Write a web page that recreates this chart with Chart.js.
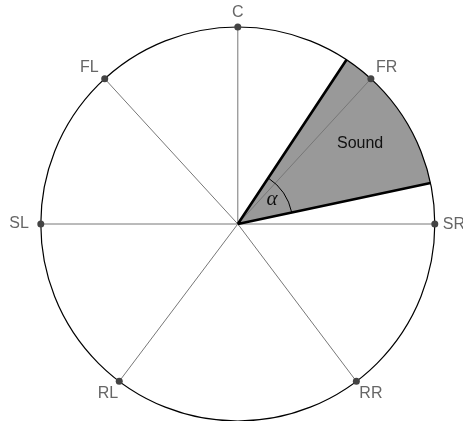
<!DOCTYPE html>
<html>
<head>
<meta charset="utf-8">
<script src="https://cdn.jsdelivr.net/npm/chart.js@4.4.0/dist/chart.umd.min.js"></script>
<style>
html,body{margin:0;padding:0;background:#fff;}
#c{display:block;}
</style>
</head>
<body>
<canvas id="c" width="463" height="421"></canvas>
<script>
// Speaker channels and their angles (degrees, clockwise from front "C")
const speakers = ['C', 'FL', 'FR', 'SL', 'SR', 'RL', 'RR'];
const speakerAngles = [0, -42.5, 42.5, -90, 90, -143, 143];
// Sound source sector (degrees)
const soundSector = [33.5, 78];
const soundLabel = 'Sound';
const angleLabel = 'α';

const toXY = (deg, r) => ({ x: r * Math.sin(deg * Math.PI / 180), y: r * Math.cos(deg * Math.PI / 180) });

const spokeData = [];
speakerAngles.forEach(a => { spokeData.push({x:0,y:0}); spokeData.push(toXY(a,1)); spokeData.push({x:NaN,y:NaN}); });
const edgeData = [];
soundSector.forEach(a => { edgeData.push({x:0,y:0}); edgeData.push(toXY(a,1)); edgeData.push({x:NaN,y:NaN}); });
const dotData = speakerAngles.map(a => toXY(a,1));

// label placement (pixel offsets / alignment)
const labelPlace = {
  C:  {dx:0,  dy:-14, align:'center'},
  FL: {dx:-6, dy:-11, align:'right'},
  FR: {dx:5,  dy:-11, align:'left'},
  SL: {dx:-12,dy:0,   align:'right'},
  SR: {dx:8,  dy:1,   align:'left'},
  RL: {dx:-1, dy:12,  align:'right'},
  RR: {dx:3,  dy:12,  align:'left'}
};

function geom(chart){
  const xs = chart.scales.x, ys = chart.scales.y;
  const cx = xs.getPixelForValue(0), cy = ys.getPixelForValue(0);
  const rx = xs.getPixelForValue(1) - cx, ry = cy - ys.getPixelForValue(1);
  return {cx, cy, rx, ry, xs, ys};
}
const rad = d => (d - 90) * Math.PI / 180;

const drawPlugin = {
  id: 'sectorDraw',
  beforeDatasetsDraw(chart){
    const {ctx} = chart; const g = geom(chart);
    ctx.save();
    // sound sector fill
    ctx.beginPath();
    ctx.moveTo(g.cx, g.cy);
    ctx.ellipse(g.cx, g.cy, g.rx, g.ry, 0, rad(soundSector[0]), rad(soundSector[1]));
    ctx.closePath();
    ctx.fillStyle = '#999999';
    ctx.fill();
    // outer circle
    ctx.beginPath();
    ctx.ellipse(g.cx, g.cy, g.rx, g.ry, 0, 0, Math.PI*2);
    ctx.strokeStyle = '#000';
    ctx.lineWidth = 1.2;
    ctx.stroke();
    ctx.restore();
  },
  afterDatasetsDraw(chart){
    const {ctx} = chart; const g = geom(chart);
    ctx.save();
    // alpha arc
    const ar = 0.28;
    ctx.beginPath();
    ctx.ellipse(g.cx, g.cy, g.rx*ar, g.ry*ar, 0, rad(soundSector[0]), rad(soundSector[1]));
    ctx.strokeStyle = '#000';
    ctx.lineWidth = 1;
    ctx.stroke();
    // alpha label
    const mid = (soundSector[0] + soundSector[1]) / 2;
    const ap = toXY(mid, 0.21);
    ctx.fillStyle = '#111';
    ctx.font = 'italic 21px "Liberation Serif", "DejaVu Serif", serif';
    ctx.textAlign = 'center'; ctx.textBaseline = 'middle';
    ctx.fillText(angleLabel, g.xs.getPixelForValue(ap.x), g.ys.getPixelForValue(ap.y) - 1);
    // sound label
    const sp = toXY(mid, 0.745);
    ctx.font = '16px "Liberation Sans", Arial, sans-serif';
    ctx.fillStyle = '#111';
    ctx.fillText(soundLabel, g.xs.getPixelForValue(sp.x) + 1, g.ys.getPixelForValue(sp.y) + 2);
    // speaker labels
    ctx.font = '16px "Liberation Sans", Arial, sans-serif';
    ctx.fillStyle = '#666';
    speakers.forEach((s, i) => {
      const p = toXY(speakerAngles[i], 1);
      const px = g.xs.getPixelForValue(p.x), py = g.ys.getPixelForValue(p.y);
      const o = labelPlace[s];
      ctx.textAlign = o.align;
      ctx.fillText(s, px + o.dx, py + o.dy);
    });
    ctx.restore();
  }
};

new Chart(document.getElementById('c'), {
  type: 'scatter',
  data: {
    datasets: [
      { label: 'speakers', data: dotData, pointRadius: 3.5, pointBackgroundColor: '#444', pointBorderWidth: 0, showLine: false, clip: false },
      { label: 'edges', data: edgeData, showLine: true, borderColor: '#000', borderWidth: 2.6, pointRadius: 0, spanGaps: false, clip: false },
      { label: 'spokes', data: spokeData, showLine: true, borderColor: '#777', borderWidth: 1, pointRadius: 0, spanGaps: false, clip: false }
    ]
  },
  options: {
    responsive: false,
    animation: false,
    events: [],
    layout: { padding: 0, autoPadding: false },
    plugins: { legend: { display: false }, tooltip: { enabled: false } },
    scales: {
      x: { type: 'linear', display: false, min: -237.8/197, max: (463-237.8)/197 },
      y: { type: 'linear', display: false, min: -(421-224)/197, max: 224/197 }
    }
  },
  plugins: [drawPlugin]
});
</script>
</body>
</html>
